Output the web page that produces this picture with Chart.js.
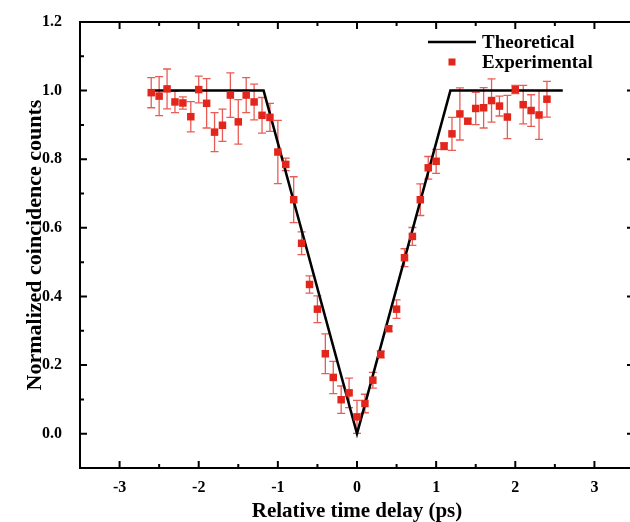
<!DOCTYPE html>
<html>
<head>
<meta charset="utf-8">
<script src="https://cdn.jsdelivr.net/npm/chart.js@4.4.0/dist/chart.umd.min.js"></script>
<style>
  html, body { margin: 0; padding: 0; background: #fff; overflow: hidden; width: 630px; height: 522px; }
  #wrap { width: 640px; height: 522px; }
</style>
</head>
<body>
<div id="wrap"><canvas id="homChart" width="640" height="522"></canvas></div>
<script>
// measured points (ps, normalized counts, error)
var delays = [-2.6, -2.5, -2.4, -2.3, -2.2, -2.1, -2.0, -1.9, -1.8, -1.7, -1.6, -1.5, -1.4, -1.3, -1.2, -1.1,
  -1.0, -0.9, -0.8, -0.7, -0.6, -0.5, -0.4, -0.3, -0.2, -0.1, 0.0, 0.1, 0.2, 0.3, 0.4, 0.5,
  0.6, 0.7, 0.8, 0.9, 1.0, 1.1, 1.2, 1.3, 1.4, 1.5, 1.6, 1.7, 1.8, 1.9, 2.0, 2.1, 2.2, 2.3, 2.4];
var counts = [0.994, 0.984, 1.005, 0.967, 0.964, 0.924, 1.003, 0.963, 0.879, 0.899, 0.987, 0.909, 0.987, 0.967, 0.928, 0.922,
  0.821, 0.785, 0.682, 0.555, 0.435, 0.363, 0.233, 0.164, 0.099, 0.119, 0.049, 0.088, 0.156, 0.231, 0.306, 0.363,
  0.513, 0.575, 0.682, 0.775, 0.794, 0.838, 0.874, 0.932, 0.911, 0.948, 0.950, 0.971, 0.955, 0.923, 1.003, 0.959, 0.942, 0.929, 0.975];
var errors = [0.044, 0.057, 0.058, 0.031, 0.018, 0.044, 0.039, 0.072, 0.057, 0.047, 0.065, 0.065, 0.051, 0.052, 0.052, 0.041,
  0.092, 0.018, 0.067, 0.033, 0.025, 0.039, 0.058, 0.047, 0.040, 0.043, 0.048, 0.027, 0.023, 0.010, 0.008, 0.027,
  0.026, 0.026, 0.046, 0.033, 0.035, 0.010, 0.048, 0.076, 0.007, 0.047, 0.059, 0.063, 0.029, 0.063, 0.012, 0.056, 0.046, 0.071, 0.052];

// theoretical dip
var theoryX = [-2.6, -1.18, 0, 1.18, 2.6];
var theoryY = [1, 1, 0, 1, 1];

var xTicks = [-3, -2, -1, 0, 1, 2, 3];
var yTicks = [0, 0.2, 0.4, 0.6, 0.8, 1.0, 1.2];

var serif = "'Liberation Serif', 'Times New Roman', serif";
var red = '#e2261c';

var frame = {
  id: 'frame',
  beforeDatasetsDraw: function(chart) {
    var ctx = chart.ctx, xs = chart.scales.x, ys = chart.scales.y;
    ctx.save();
    ctx.strokeStyle = 'rgba(226,38,28,0.75)';
    ctx.lineWidth = 1.3;
    for (var i = 0; i < delays.length; i++) {
      var px = xs.getPixelForValue(delays[i]);
      var top = ys.getPixelForValue(counts[i] + errors[i]);
      var bot = ys.getPixelForValue(counts[i] - errors[i]);
      ctx.beginPath();
      ctx.moveTo(px, top); ctx.lineTo(px, bot);
      ctx.moveTo(px - 4, top); ctx.lineTo(px + 4, top);
      ctx.moveTo(px - 4, bot); ctx.lineTo(px + 4, bot);
      ctx.stroke();
    }
    ctx.restore();
  },
  afterDraw: function(chart) {
    var ctx = chart.ctx, a = chart.chartArea, xs = chart.scales.x, ys = chart.scales.y;
    ctx.save();
    ctx.strokeStyle = '#000';
    ctx.lineWidth = 2;
    ctx.strokeRect(a.left, a.top, a.right - a.left, a.bottom - a.top);
    ctx.beginPath();
    // x ticks, major every 1, minor every 0.5
    for (var v = -3.5; v <= 3.5001; v += 0.5) {
      var px = xs.getPixelForValue(v);
      var len = Math.abs(v % 1) < 0.01 ? 7 : 4;
      ctx.moveTo(px, a.bottom); ctx.lineTo(px, a.bottom - len);
      ctx.moveTo(px, a.top); ctx.lineTo(px, a.top + len);
    }
    // y ticks, major every 0.2, minor every 0.1
    for (var k = -1; k <= 12; k++) {
      var py = ys.getPixelForValue(k / 10);
      var ylen = (k % 2 === 0) ? 7 : 4;
      ctx.moveTo(a.left, py); ctx.lineTo(a.left + ylen, py);
      ctx.moveTo(a.right, py); ctx.lineTo(a.right - ylen, py);
    }
    ctx.stroke();

    // legend
    ctx.lineWidth = 2.5;
    ctx.beginPath();
    ctx.moveTo(428, 42); ctx.lineTo(476, 42);
    ctx.stroke();
    ctx.fillStyle = red;
    ctx.fillRect(448.5, 58.5, 7, 7);
    ctx.fillStyle = '#000';
    ctx.font = 'bold 19px ' + serif;
    ctx.textBaseline = 'middle';
    ctx.textAlign = 'left';
    ctx.fillText('Theoretical', 482, 43);
    ctx.fillText('Experimental', 482, 63);
    ctx.restore();
  }
};

var ctx = document.getElementById('homChart').getContext('2d');
var chart = new Chart(ctx, {
  data: {
    datasets: [{
      type: 'scatter',
      label: 'Experimental',
      data: delays.map(function(d, i) { return { x: d, y: counts[i] }; }),
      pointStyle: 'rect',
      pointRadius: 5.3,
      backgroundColor: red,
      borderWidth: 0,
      order: 1
    }, {
      type: 'line',
      label: 'Theoretical',
      data: theoryX.map(function(d, i) { return { x: d, y: theoryY[i] }; }),
      borderColor: '#000',
      borderWidth: 2.5,
      pointRadius: 0,
      tension: 0,
      fill: false,
      order: 2
    }]
  },
  options: {
    responsive: false,
    animation: false,
    devicePixelRatio: 1,
    layout: { padding: { top: 22, right: 6, left: 0, bottom: 0 } },
    plugins: { legend: { display: false }, tooltip: { enabled: false } },
    scales: {
      x: {
        type: 'linear',
        min: -3.5,
        max: 3.5,
        grid: { display: false, drawTicks: false },
        border: { display: false },
        afterBuildTicks: function(s) { s.ticks = xTicks.map(function(v) { return { value: v }; }); },
        afterFit: function(s) { s.height = 54; s.paddingLeft = 0; s.paddingRight = 0; },
        ticks: {
          color: '#000',
          padding: 10,
          font: { family: serif, size: 16, weight: 'bold' },
          callback: function(v) { return String(v); }
        },
        title: {
          display: true,
          text: 'Relative time delay (ps)',
          color: '#000',
          padding: { top: 0, bottom: -2 },
          font: { family: serif, size: 21, weight: 'bold' }
        }
      },
      y: {
        type: 'linear',
        min: -0.1,
        max: 1.2,
        grid: { display: false, drawTicks: false },
        border: { display: false },
        afterBuildTicks: function(s) { s.ticks = yTicks.map(function(v) { return { value: v }; }); },
        afterFit: function(s) { s.width = 80; s.paddingTop = 0; s.paddingBottom = 0; },
        ticks: {
          color: '#000',
          padding: 18,
          font: { family: serif, size: 16, weight: 'bold' },
          callback: function(v) { return v.toFixed(1); }
        },
        title: {
          display: true,
          text: 'Normalized coincidence counts',
          color: '#000',
          padding: { top: 22, bottom: 0 },
          font: { family: serif, size: 22, weight: 'bold' }
        }
      }
    }
  },
  plugins: [frame]
});
</script>
</body>
</html>
